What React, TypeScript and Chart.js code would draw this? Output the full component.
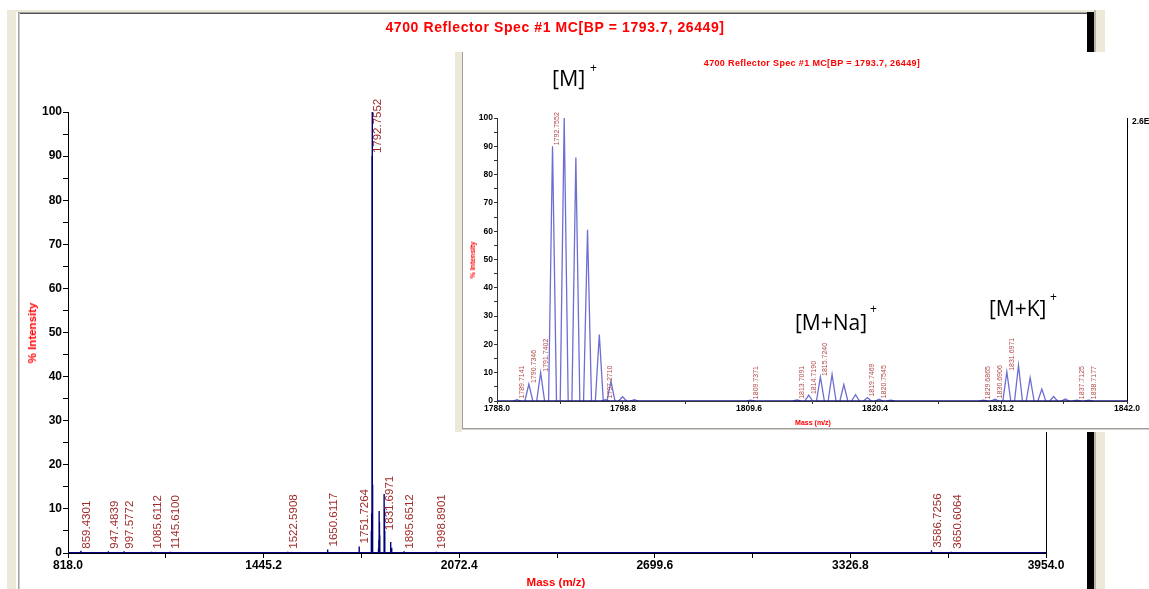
import React, { useEffect, useRef } from "react";
import { Chart, registerables } from "chart.js";
Chart.register(...registerables);

// ---------- MAIN SPECTRUM DATA ----------
const mainPeakMz = [859.43, 947.48, 997.58, 1085.61, 1145.61, 1522.59, 1650.61, 1751.73, 1790.73, 1791.74, 1792.76, 1793.76, 1794.76, 1813.71, 1814.72, 1815.72, 1816.72, 1817.73, 1831.7, 1832.7, 1833.7, 1852.7, 1856.0, 1895.65, 1998.89, 3586.73, 3650.61];
const mainPeakInt = [0.5, 0.4, 0.4, 0.3, 0.3, 0.3, 0.8, 1.5, 5, 9, 90, 100, 15.5, 1, 3, 9.5, 7, 4, 13.4, 10, 5, 2.5, 1.2, 0.4, 0.3, 0.6, 0.3];
const mainLabelText = ["859.4301", "947.4839", "997.5772", "1085.6112", "1145.6100", "1522.5908", "1650.6117", "1751.7264", "1792.7552", "1831.6971", "1895.6512", "1998.8901", "3586.7256", "3650.6064"];
const mainLabelInt = [0.3, 0.3, 0.3, 0.3, 0.3, 0.3, 0.8, 1.5, 90, 4.5, 0.3, 0.3, 0.5, 0.3];
const mainXTickLabels = ["818.0", "1445.2", "2072.4", "2699.6", "3326.8", "3954.0"];

// ---------- INSET (ZOOM) DATA ----------
const insetPeakMz = [1789.71, 1790.73, 1791.74, 1792.76, 1793.76, 1794.76, 1795.76, 1796.77, 1797.27, 1797.77, 1798.77, 1799.77, 1809.74, 1813.71, 1814.72, 1815.72, 1816.72, 1817.73, 1818.73, 1819.75, 1820.75, 1821.75, 1829.69, 1830.69, 1831.7, 1832.7, 1833.7, 1834.7, 1835.71, 1836.71, 1837.71, 1838.72];
const insetPeakInt = [0.5, 6, 10, 90, 100, 86, 60.5, 23.5, 0.5, 7, 1.5, 0.5, 0.3, 0.4, 2.1, 8.5, 9.4, 5.8, 2.2, 1.2, 0.6, 0.3, 0.3, 0.6, 10.3, 12.6, 8.2, 4.2, 1.6, 0.7, 0.3, 0.3];
const insetLabelText = ["1789.7141", "1790.7346", "1791.7402", "1792.7552", "1797.2710", "1809.7371", "1813.7091", "1814.7190", "1815.7240", "1819.7469", "1820.7545", "1829.6865", "1830.6906", "1831.6971", "1837.7125", "1838.7177"];
const insetLabelInt = [0.5, 6, 10, 90, 0.5, 0.3, 0.4, 2.1, 8.5, 1.2, 0.6, 0.3, 0.6, 10.3, 0.3, 0.3];
const insetXTickLabels = ["1788.0", "1798.8", "1809.6", "1820.4", "1831.2", "1842.0"];

const TITLE = "4700 Reflector Spec #1 MC[BP = 1793.7, 26449]";
const SANS = "'Liberation Sans', Arial, sans-serif";

function stickData(mz: number[], inten: number[]) {
  const pts: any[] = [];
  mz.forEach((m, i) => {
    pts.push({ x: m, y: 0 }, { x: m, y: inten[i] }, { x: m, y: null });
  });
  return pts;
}
function spikeData(mz: number[], inten: number[], half: number) {
  const pts: any[] = [];
  mz.forEach((m, i) => {
    pts.push({ x: m - half, y: 0 }, { x: m, y: inten[i] }, { x: m + half, y: 0 }, { x: m, y: null });
  });
  return pts;
}
function tickSet(labels: string[]) {
  const vals = labels.map(parseFloat);
  const out: number[] = [];
  vals.forEach((v, i) => {
    out.push(v);
    if (i < vals.length - 1) out.push((v + vals[i + 1]) / 2);
  });
  return out;
}

function labelPlugin(texts: string[], ints: number[], font: string, color: string, dx: number, gap: number) {
  return {
    id: "peakLabels",
    afterDatasetsDraw(chart: any) {
      const { ctx } = chart;
      const x = chart.scales.x, y = chart.scales.y;
      ctx.save();
      ctx.font = font;
      ctx.fillStyle = color;
      ctx.textAlign = "left";
      ctx.textBaseline = "middle";
      texts.forEach((t, i) => {
        const px = x.getPixelForValue(parseFloat(t)) + dx;
        const py = Math.min(y.getPixelForValue(ints[i]), y.getPixelForValue(0)) - gap;
        ctx.save();
        ctx.translate(px, py);
        ctx.rotate(-Math.PI / 2);
        ctx.fillText(t, 0, 0);
        ctx.restore();
      });
      ctx.restore();
    },
  };
}
function rightLinePlugin(extra?: string, font?: string) {
  return {
    id: "rightLine",
    afterDraw(chart: any) {
      const { ctx, chartArea } = chart;
      ctx.save();
      ctx.strokeStyle = "#000";
      ctx.lineWidth = 1;
      ctx.beginPath();
      ctx.moveTo(Math.round(chartArea.right) + 0.5, chartArea.top);
      ctx.lineTo(Math.round(chartArea.right) + 0.5, chartArea.bottom);
      ctx.stroke();
      if (extra) {
        ctx.font = font;
        ctx.fillStyle = "#000";
        ctx.textBaseline = "middle";
        ctx.fillText(extra, chartArea.right + 5, chartArea.top + 4);
      }
      ctx.restore();
    },
  };
}

export default function App() {
  const mainRef = useRef<HTMLCanvasElement>(null);
  const insetRef = useRef<HTMLCanvasElement>(null);

  useEffect(() => {
    const mainTicks = tickSet(mainXTickLabels);
    const mainChart = new Chart(mainRef.current!, {
      type: "line",
      data: {
        datasets: [
          {
            data: [{ x: 818, y: 0 }, { x: 3954, y: 0 }],
            borderColor: "#000080",
            borderWidth: 2.2,
            pointRadius: 0,
          },
          {
            data: stickData(mainPeakMz, mainPeakInt),
            borderColor: "#00007a",
            borderWidth: 1.4,
            pointRadius: 0,
            spanGaps: false,
          },
        ],
      },
      options: {
        animation: false,
        responsive: false,
        devicePixelRatio: 1,
        events: [],
        layout: { padding: { left: 0, top: 112, right: 103, bottom: 6 } },
        plugins: { legend: { display: false }, tooltip: { enabled: false }, title: { display: false } },
        scales: {
          x: {
            type: "linear",
            min: 818,
            max: 3954,
            afterBuildTicks: (s: any) => {
              s.ticks = mainTicks.map((v) => ({ value: v }));
            },
            afterFit: (s: any) => {
              s.height = 30;
            },
            ticks: {
              autoSkip: false,
              maxRotation: 0,
              padding: 0,
              color: "#000",
              font: { family: SANS, size: 12, weight: "bold" },
              callback: (v: number) => {
                const idx = mainXTickLabels.findIndex((l) => Math.abs(parseFloat(l) - v) < 1e-6);
                return idx >= 0 ? mainXTickLabels[idx] : "";
              },
            },
            grid: { drawOnChartArea: false, tickLength: 5, tickColor: "#000" },
            border: { color: "#000", width: 1 },
          },
          y: {
            min: 0,
            max: 100,
            afterFit: (s: any) => {
              s.width = 68;
            },
            ticks: {
              stepSize: 5,
              padding: 1,
              color: "#000",
              font: { family: SANS, size: 12, weight: "bold" },
              callback: (v: number) => (v % 10 === 0 ? String(v) : ""),
            },
            grid: { drawOnChartArea: false, tickLength: 5, tickColor: "#000" },
            border: { color: "#000", width: 1 },
          },
        },
      },
      plugins: [
        labelPlugin(mainLabelText, mainLabelInt, `11.5px ${SANS}`, "#9e2a2a", 6, 3),
        rightLinePlugin(),
      ],
    } as any);

    const insetTicks = tickSet(insetXTickLabels);
    const insetChart = new Chart(insetRef.current!, {
      type: "line",
      data: {
        datasets: [
          {
            data: [{ x: 1788, y: 0 }, { x: 1842, y: 0 }],
            borderColor: "#1a1a8a",
            borderWidth: 1.6,
            pointRadius: 0,
          },
          {
            data: spikeData(insetPeakMz, insetPeakInt, 0.34),
            borderColor: "#6e6ed2",
            borderWidth: 1.3,
            pointRadius: 0,
            spanGaps: false,
          },
        ],
      },
      options: {
        animation: false,
        responsive: false,
        devicePixelRatio: 1,
        events: [],
        layout: { padding: { left: 0, top: 66, right: 22, bottom: 12 } },
        plugins: { legend: { display: false }, tooltip: { enabled: false }, title: { display: false } },
        scales: {
          x: {
            type: "linear",
            min: 1788,
            max: 1842,
            afterBuildTicks: (s: any) => {
              s.ticks = insetTicks.map((v) => ({ value: v }));
            },
            afterFit: (s: any) => {
              s.height = 15;
            },
            ticks: {
              autoSkip: false,
              maxRotation: 0,
              padding: 0,
              color: "#000",
              font: { family: SANS, size: 8.5, weight: "bold" },
              callback: (v: number) => {
                const idx = insetXTickLabels.findIndex((l) => Math.abs(parseFloat(l) - v) < 1e-6);
                return idx >= 0 ? insetXTickLabels[idx] : "";
              },
            },
            grid: { drawOnChartArea: false, tickLength: 3, tickColor: "#333" },
            border: { color: "#333", width: 1 },
          },
          y: {
            min: 0,
            max: 100,
            afterFit: (s: any) => {
              s.width = 42;
            },
            ticks: {
              stepSize: 5,
              padding: 1,
              color: "#000",
              font: { family: SANS, size: 8.5, weight: "bold" },
              callback: (v: number) => (v % 10 === 0 ? String(v) : ""),
            },
            grid: { drawOnChartArea: false, tickLength: 3, tickColor: "#333" },
            border: { color: "#333", width: 1 },
          },
        },
      },
      plugins: [
        labelPlugin(insetLabelText, insetLabelInt, `7px ${SANS}`, "#b04848", 5, 1),
        rightLinePlugin("2.6E+4", `bold 8.5px ${SANS}`),
      ],
    } as any);

    return () => {
      mainChart.destroy();
      insetChart.destroy();
    };
  }, []);

  const abs = (s: React.CSSProperties): React.CSSProperties => ({ position: "absolute", ...s });
  const beige = "#ece9d8";

  return (
    <div style={{ position: "fixed", left: 0, top: 0, width: 1149, height: 589, overflow: "hidden", background: "#fff", fontFamily: SANS }}>
      {/* main window frame */}
      <div style={abs({ left: 7, top: 10, width: 9, height: 579, background: beige })} />
      <div style={abs({ left: 7, top: 10, width: 1098, height: 2, background: beige })} />
      <div style={abs({ left: 18, top: 12, width: 1070, height: 1, background: "#a0a0a0" })} />
      <div style={abs({ left: 18, top: 13, width: 1070, height: 1, background: "#555" })} />
      <div style={abs({ left: 18, top: 12, width: 1, height: 577, background: "#a0a0a0" })} />
      <div style={abs({ left: 19, top: 13, width: 1, height: 576, background: "#d4d0c8" })} />
      <div style={abs({ left: 1087, top: 12, width: 7, height: 577, background: "#000" })} />
      <div style={abs({ left: 1094, top: 10, width: 2, height: 579, background: "#b8b4a8" })} />
      <div style={abs({ left: 1096, top: 10, width: 9, height: 579, background: beige })} />

      <canvas ref={mainRef} width={1149} height={589} style={abs({ left: 0, top: 0, width: 1149, height: 589 })} />

      <div style={abs({ left: 0, top: 19, width: 1110, textAlign: "center", color: "#ff0000", fontWeight: "bold", fontSize: 14, letterSpacing: 0.6, lineHeight: "16px", whiteSpace: "nowrap" })}>{TITLE}</div>
      <div style={abs({ left: 32, top: 333, transform: "translate(-50%, -50%) rotate(-90deg)", color: "#ff0000", fontWeight: "bold", fontSize: 11.5, whiteSpace: "nowrap", lineHeight: "14px" })}>% Intensity</div>
      <div style={abs({ left: 556, top: 582, transform: "translate(-50%, -50%)", color: "#ff0000", fontWeight: "bold", fontSize: 11.5, whiteSpace: "nowrap", lineHeight: "14px" })}>Mass (m/z)</div>

      {/* inset */}
      <div style={abs({ left: 455, top: 52, width: 694, height: 380, background: "#fff" })}>
        <div style={abs({ left: 0, top: 0, width: 7, height: 380, background: beige })} />
        <div style={abs({ left: 7, top: 0, width: 1, height: 377, background: "#a0a0a0" })} />
        <div style={abs({ left: 7, top: 376, width: 687, height: 1, background: "#a0a0a0" })} />
        <div style={abs({ left: 7, top: 377, width: 687, height: 1, background: "#d4d0c8" })} />
        <canvas ref={insetRef} width={694} height={376} style={abs({ left: 0, top: 0, width: 694, height: 376 })} />
        <div style={abs({ left: 357, top: 6, transform: "translateX(-50%)", color: "#ff0000", fontWeight: "bold", fontSize: 9, letterSpacing: 0.35, lineHeight: "10px", whiteSpace: "nowrap" })}>{TITLE}</div>
        <div style={abs({ left: 18, top: 208, transform: "translate(-50%, -50%) rotate(-90deg)", color: "#ff0000", fontWeight: "bold", fontSize: 7, whiteSpace: "nowrap", lineHeight: "8px" })}>% Intensity</div>
        <div style={abs({ left: 358, top: 371, transform: "translate(-50%, -50%)", color: "#ff0000", fontWeight: "bold", fontSize: 7, whiteSpace: "nowrap", lineHeight: "8px" })}>Mass (m/z)</div>
      </div>

      {/* ion annotations */}
      <div style={abs({ left: 552, top: 64, fontFamily: "'Open Sans', sans-serif", fontSize: 21.5, lineHeight: "28px", color: "#000", whiteSpace: "nowrap" })}>[M]</div>
      <div style={abs({ left: 590, top: 61, fontFamily: "'Open Sans', sans-serif", fontSize: 12, lineHeight: "14px", color: "#000" })}>+</div>
      <div style={abs({ left: 795, top: 308, fontFamily: "'Open Sans', sans-serif", fontSize: 21, lineHeight: "28px", color: "#000", whiteSpace: "nowrap" })}>[M+Na]</div>
      <div style={abs({ left: 870, top: 302, fontFamily: "'Open Sans', sans-serif", fontSize: 12, lineHeight: "14px", color: "#000" })}>+</div>
      <div style={abs({ left: 989, top: 294, fontFamily: "'Open Sans', sans-serif", fontSize: 21, lineHeight: "28px", color: "#000", whiteSpace: "nowrap" })}>[M+K]</div>
      <div style={abs({ left: 1050, top: 290, fontFamily: "'Open Sans', sans-serif", fontSize: 12, lineHeight: "14px", color: "#000" })}>+</div>
    </div>
  );
}
